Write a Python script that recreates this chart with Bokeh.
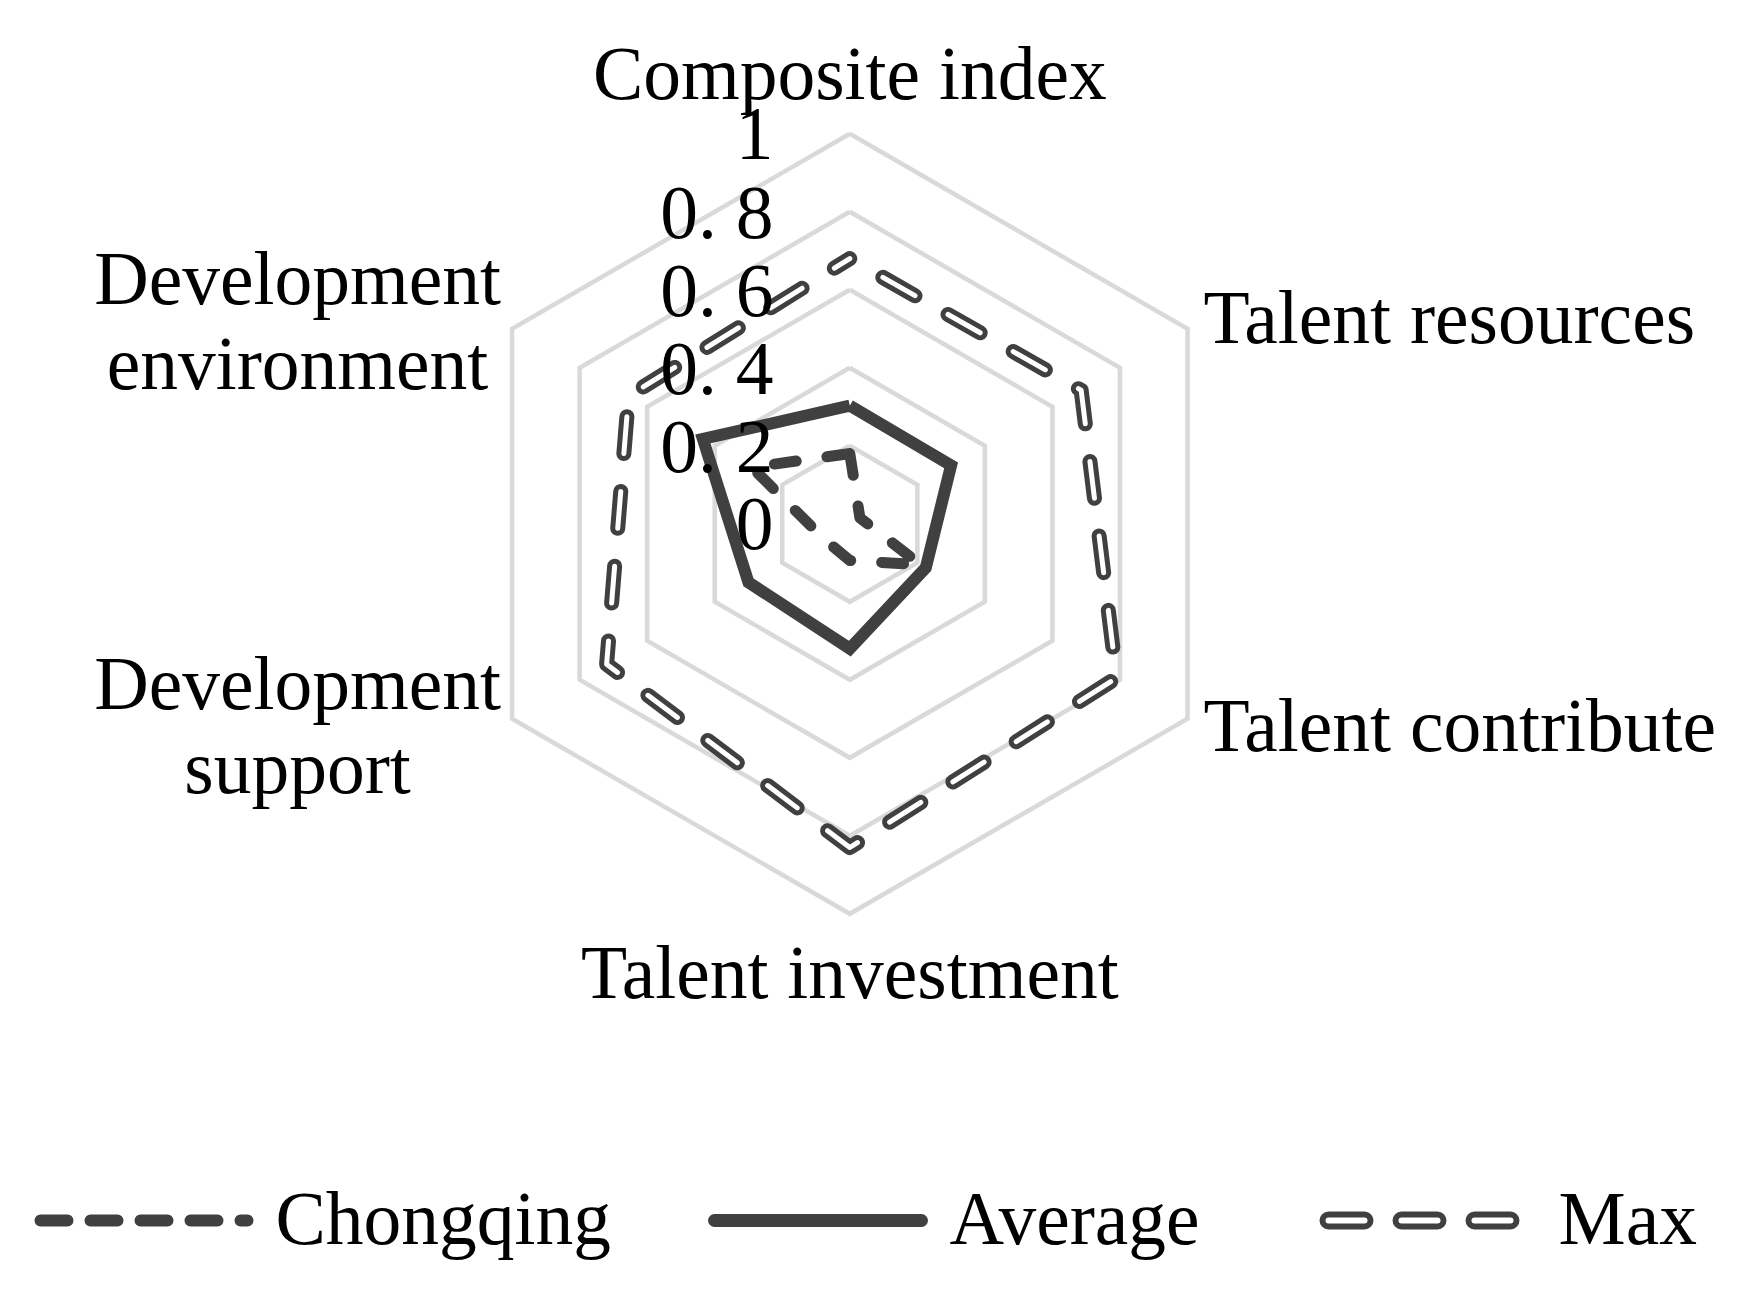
import numpy as np
from bokeh.plotting import figure
from bokeh.models import Range1d
from bokeh.core.properties import value
from bokeh.embed import file_html
from bokeh.resources import INLINE

# ---- data ----
categories = ["Composite index", "Talent resources", "Talent contribute",
              "Talent investment", "Development support", "Development environment"]
chongqing = [0.18, 0.03, 0.21, 0.094, 0.077, 0.29]
average = [0.303, 0.30, 0.225, 0.32, 0.30, 0.435]
max_vals = [0.68, 0.685, 0.79, 0.83, 0.72, 0.655]
ticks = [0, 0.2, 0.4, 0.6, 0.8, 1.0]
tick_labels = ["0", "0. 2", "0. 4", "0. 6", "0. 8", "1"]
series_names = ["Chongqing", "Average", "Max"]

# ---- layout (page pixels) ----
W, H = 1744, 1290
CX, CY, R = 849.3, 523.3, 390.0
TB = 25.0  # baseline correction
FONT = value("Liberation Serif")
FS = "75.5px"
DARK = "#404040"
GRID = "#d9d9d9"


def dx(X):
    return (X - CX) / R


def dy(Y):
    return (CY - Y) / R


def ty(Y):
    return dy(Y - TB)


p = figure(width=W, height=H, output_backend="svg", toolbar_location=None,
           x_range=Range1d(dx(0), dx(W)), y_range=Range1d(dy(H), dy(0)),
           x_axis_type=None, y_axis_type=None, min_border=0,
           outline_line_color=None, background_fill_color="white",
           border_fill_color="white")
p.grid.visible = False

ang = np.deg2rad(90 - 60 * np.arange(len(categories)))


def poly(vals):
    v = np.array(list(vals) + [vals[0]], dtype=float)
    a = np.append(ang, ang[0])
    return v * np.cos(a), v * np.sin(a)


# grid rings
for t in ticks[1:]:
    xs, ys = poly([t] * len(categories))
    p.line(xs, ys, line_color=GRID, line_width=4.5, line_join="miter")

# Max: hollow dashes
xs, ys = poly(max_vals)
p.line(xs, ys, line_color=DARK, line_width=15, line_dash="37 38", line_dash_offset=37,
       line_cap="round", line_join="round")
p.line(xs, ys, line_color="white", line_width=5, line_dash="37 38", line_dash_offset=37,
       line_cap="round", line_join="round")

# Average: solid
xs, ys = poly(average)
p.line(xs, ys, line_color=DARK, line_width=12, line_join="miter")

# Chongqing: dashed
xs, ys = poly(chongqing)
p.line(xs, ys, line_color=DARK, line_width=11, line_dash="22 31",
       line_cap="round", line_join="round")

# tick labels
p.text(x=[dx(773)] * len(ticks), y=[t - (25.5 - TB) / R for t in ticks], text=tick_labels,
       text_font=FONT, text_font_size=FS, text_color="black",
       text_align="right", text_baseline="alphabetic")

# category labels
lab_x = [dx(849.3), dx(1203), dx(1203), dx(849.3), dx(297), dx(297), dx(297), dx(297)]
lab_y = [ty(98), ty(341.7), ty(750), ty(997), ty(708), ty(792), ty(303), ty(387.5)]
lab_t = [categories[0], categories[1], categories[2], categories[3],
         "Development", "support", "Development", "environment"]
lab_a = ["center", "left", "left", "center", "center", "center", "center", "center"]
for x, y, t, a in zip(lab_x, lab_y, lab_t, lab_a):
    p.text(x=[x], y=[y], text=[t], text_font=FONT, text_font_size=FS,
           text_color="black", text_align=a, text_baseline="alphabetic")

# legend (manual)
ly = dy(1220)
p.line([dx(40), dx(247)], [ly, ly], line_color=DARK, line_width=12, line_dash="27 23",
       line_cap="round")
p.line([dx(714), dx(921)], [ly, ly], line_color=DARK, line_width=13, line_cap="round")
p.line([dx(1328), dx(1511)], [ly, ly], line_color=DARK, line_width=18, line_dash="36 37",
       line_cap="round")
p.line([dx(1328), dx(1511)], [ly, ly], line_color="white", line_width=6, line_dash="36 37",
       line_cap="round")
p.text(x=[dx(275), dx(949), dx(1558)], y=[ty(1243)] * 3, text=series_names,
       text_font=FONT, text_font_size=FS, text_color="black",
       text_align="left", text_baseline="alphabetic")

open("out.html", "w").write(file_html(p, INLINE))
